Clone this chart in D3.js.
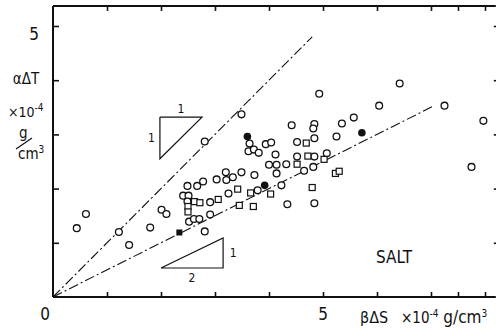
<!DOCTYPE html>
<html>
<head>
<meta charset="utf-8">
<script src="https://cdn.jsdelivr.net/npm/d3@7/dist/d3.min.js"></script>
<style>
  body { margin: 0; background: #fff; }
  text { font-family: "Liberation Sans Narrow", "DejaVu Sans Condensed", "Liberation Sans", sans-serif; fill: #111; }
</style>
</head>
<body>
<div id="chart"></div>
<script>
// values, in units of 1e-4 g/cm3
const openCircles = [
  [0.61,1.53],[0.44,1.27],[1.22,1.20],[1.41,0.96],[1.80,1.28],[2.01,1.61],[2.10,1.53],
  [2.81,2.87],[3.49,3.37],[3.64,2.83],[3.62,2.69],[3.72,2.72],[3.81,2.66],[3.94,2.82],
  [4.04,2.85],[4.12,2.63],[4.42,3.17],[4.52,2.86],[4.52,2.59],[4.84,3.19],[4.82,3.11],
  [5.35,3.20],[5.57,3.31],[5.25,2.96],[4.84,2.93],[4.93,3.75],[6.42,3.94],[6.04,3.53],
  [7.25,3.53],[7.97,3.25],[7.75,2.40],[4.84,2.59],[5.07,2.65],[4.00,2.44],[4.14,2.44],
  [4.32,2.45],[4.65,2.33],[4.82,2.40],[4.14,2.28],[4.23,2.06],[4.34,1.71],[4.84,1.73],
  [3.79,1.97],[3.25,1.91],[2.91,1.75],[2.41,1.87],[2.51,1.87],[2.49,1.76],[2.52,1.39],
  [2.61,1.44],[2.71,1.44],[2.91,1.52],[2.81,1.21],[2.49,2.05],[2.67,2.05],[2.78,2.13],
  [3.03,2.17],[3.20,2.30],[3.21,2.16],[3.33,2.21],[3.49,2.30],[3.73,2.25]
];
const openSquares = [
  [4.69,2.84],[4.72,2.60],[5.02,2.54],[4.52,2.45],[5.23,2.28],[5.30,2.32],[4.80,2.02],
  [4.03,1.90],[3.66,1.92],[3.42,1.99],[3.06,1.80],[2.62,1.76],[2.72,1.74],[2.50,1.67],
  [2.50,1.57],[3.45,1.69],[3.71,1.67]
];
const filledCircles = [[3.60,2.96],[5.72,3.03],[3.92,2.06]];
const filledSquares = [[2.34,1.19]];

// guide lines: slope 1 and slope 1/2 through the origin
const guideLines = [
  { slope: 1, xEnd: 4.8 },
  { slope: 0.5, xEnd: 7.05 }
];
// slope triangles [x0, x1, y0, y1]
const triangle1 = [1.98, 2.76, 2.55, 3.32];
const triangle2 = [2.0, 3.15, 0.535, 1.09];

const xTicks = [1, 2, 3, 4, 5, 6, 7, 7.5, 8];
const yTicks = [1, 2, 3, 4, 5];
const X_LIMIT = 8.2, Y_LIMIT = 5.37;

const W = 496, H = 334;
const svg = d3.select("#chart").append("svg")
  .attr("width", W).attr("height", H)
  .style("background", "#fff");

const x = d3.scaleLinear().domain([0, 5]).range([53, 323]);
const y = d3.scaleLinear().domain([0, 5]).range([297, 26]);

// frame
const frame = svg.append("g").attr("stroke", "#111").attr("fill", "none");
frame.append("line").attr("x1", x(0)).attr("y1", y(0)).attr("x2", x(X_LIMIT)).attr("y2", y(0)).attr("stroke-width", 2);
frame.append("line").attr("x1", x(0)).attr("y1", y(0)).attr("x2", x(0)).attr("y2", y(Y_LIMIT)).attr("stroke-width", 2);
frame.append("line").attr("x1", x(0)).attr("y1", y(Y_LIMIT)).attr("x2", x(X_LIMIT)).attr("y2", y(Y_LIMIT)).attr("stroke-width", 2);

// inward ticks with d3 axes
function tickAxis(axis, transform) {
  const g = svg.append("g").attr("transform", transform).call(axis);
  g.select(".domain").remove();
  g.selectAll("line").attr("stroke", "#111").attr("stroke-width", 1.6);
  g.selectAll("text").remove();
}
tickAxis(d3.axisBottom(x).tickValues(xTicks).tickSize(-5), `translate(0,${y(0)})`);
tickAxis(d3.axisTop(x).tickValues(xTicks).tickSize(-5), `translate(0,${y(Y_LIMIT)})`);
tickAxis(d3.axisLeft(y).tickValues(yTicks).tickSize(-6), `translate(${x(0)},0)`);
tickAxis(d3.axisRight(y).tickValues(yTicks).tickSize(-4), `translate(${x(X_LIMIT) + 2},0)`);

// guide lines
svg.append("g").selectAll("line").data(guideLines).join("line")
  .attr("x1", x(0)).attr("y1", y(0))
  .attr("x2", d => x(d.xEnd)).attr("y2", d => y(d.slope * d.xEnd))
  .attr("stroke", "#111").attr("stroke-width", 1.1)
  .attr("stroke-dasharray", "10,3,2,3");

// slope triangles
const tri = svg.append("g").attr("stroke", "#111").attr("stroke-width", 1.2).attr("fill", "none");
tri.append("path").attr("d", d3.line()([
  [x(triangle1[0]), y(triangle1[3])], [x(triangle1[1]), y(triangle1[3])],
  [x(triangle1[0]), y(triangle1[2])], [x(triangle1[0]), y(triangle1[3])]
]));
tri.append("path").attr("d", d3.line()([
  [x(triangle2[0]), y(triangle2[2])], [x(triangle2[1]), y(triangle2[2])],
  [x(triangle2[1]), y(triangle2[3])], [x(triangle2[0]), y(triangle2[2])]
]));
svg.append("text").attr("x", x((triangle1[0] + triangle1[1]) / 2)).attr("y", y(triangle1[3]) - 4)
  .attr("text-anchor", "middle").attr("font-size", 12).text("1");
svg.append("text").attr("x", x(triangle1[0]) - 5).attr("y", y((triangle1[2] + triangle1[3]) / 2) + 4)
  .attr("text-anchor", "end").attr("font-size", 12).text("1");
svg.append("text").attr("x", x((triangle2[0] + triangle2[1]) / 2)).attr("y", y(triangle2[2]) + 14)
  .attr("text-anchor", "middle").attr("font-size", 12).text("2");
svg.append("text").attr("x", x(triangle2[1]) + 10).attr("y", y((triangle2[2] + triangle2[3]) / 2) + 4)
  .attr("text-anchor", "middle").attr("font-size", 12).text("1");

// data marks
const R = 3.4, S = 6;
svg.append("g").selectAll("circle").data(openCircles).join("circle")
  .attr("cx", d => x(d[0])).attr("cy", d => y(d[1])).attr("r", R)
  .attr("fill", "#fff").attr("stroke", "#111").attr("stroke-width", 1.3);
svg.append("g").selectAll("rect").data(openSquares).join("rect")
  .attr("x", d => x(d[0]) - S / 2).attr("y", d => y(d[1]) - S / 2)
  .attr("width", S).attr("height", S)
  .attr("fill", "#fff").attr("stroke", "#111").attr("stroke-width", 1.2);
svg.append("g").selectAll("circle").data(filledCircles).join("circle")
  .attr("cx", d => x(d[0])).attr("cy", d => y(d[1])).attr("r", R + 0.4)
  .attr("fill", "#111");
svg.append("g").selectAll("rect").data(filledSquares).join("rect")
  .attr("x", d => x(d[0]) - S / 2).attr("y", d => y(d[1]) - S / 2)
  .attr("width", S).attr("height", S).attr("fill", "#111");

// axis labels
svg.append("text").attr("x", x(0) - 8).attr("y", 320).attr("text-anchor", "middle").attr("font-size", 17).text("0");
svg.append("text").attr("x", x(5)).attr("y", 320).attr("text-anchor", "middle").attr("font-size", 17).text("5");
svg.append("text").attr("x", 34).attr("y", 40).attr("text-anchor", "middle").attr("font-size", 17).text("5");

svg.append("text").attr("x", 360).attr("y", 323).attr("font-size", 16).text("βΔS");
const xu = svg.append("text").attr("x", 401).attr("y", 323).attr("font-size", 15);
xu.append("tspan").text("×10");
xu.append("tspan").attr("dy", -6).attr("font-size", 10).text("-4");
xu.append("tspan").attr("dy", 6).attr("font-size", 17).text(" g/cm");
xu.append("tspan").attr("dy", -6).attr("font-size", 10).text("3");

svg.append("text").attr("x", 26).attr("y", 84).attr("text-anchor", "middle").attr("font-size", 15).text("αΔT");
const yu = svg.append("text").attr("x", 8).attr("y", 117).attr("font-size", 14);
yu.append("tspan").text("×10");
yu.append("tspan").attr("dy", -6).attr("font-size", 10).text("-4");
svg.append("text").attr("x", 19).attr("y", 138).attr("font-size", 15).text("g");
svg.append("line").attr("x1", 16).attr("y1", 149).attr("x2", 32).attr("y2", 138).attr("stroke", "#111").attr("stroke-width", 1.2);
const cm = svg.append("text").attr("x", 18).attr("y", 159).attr("font-size", 15);
cm.append("tspan").text("cm");
cm.append("tspan").attr("dy", -6).attr("font-size", 10).text("3");

svg.append("text").attr("x", 376).attr("y", 263).attr("font-size", 17).text("SALT");
</script>
</body>
</html>
